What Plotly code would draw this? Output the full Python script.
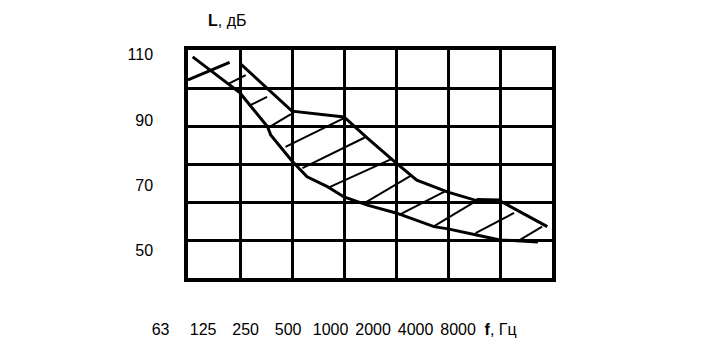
import plotly.graph_objects as go

# ---------------- data ----------------
freq_labels = ["63", "125", "250", "500", "1000", "2000", "4000", "8000"]
x_unit_label = "<b>f</b>, Гц"
y_unit_label = "<b>L</b>, дБ"
y_tick_vals = [110, 90, 70, 50]
y_tick_text = ["110", "90", "70", "50"]

# x is the octave-band index (0 = 63 Hz ... 7 = 8000 Hz), y is level in dB
lower_x = [0.09, 1.0, 1.53, 1.59, 2.0, 2.29, 2.69, 3.0, 3.45, 4.0, 4.73, 5.0, 5.55, 6.0, 6.73]
lower_y = [109.4, 98.3, 87.9, 85.4, 77.4, 72.5, 69.4, 66.3, 63.8, 61.4, 57.2, 56.5, 54.6, 53.1, 52.5]

upper_x = [1.0, 2.0, 3.0, 3.45, 4.0, 4.4, 5.0, 5.55, 6.0, 6.91]
upper_y = [107.4, 92.7, 90.9, 84.4, 76.8, 71.5, 67.8, 65.2, 65.1, 57.2]

upper63_x = [0.0, 0.80]
upper63_y = [102.3, 107.7]

plateau_x = [5.55, 6.0]
plateau_y = [65.2, 65.1]

hatch_x0 = [0.766, 1.17, 1.53, 1.875, 2.20, 2.69, 3.40, 4.06, 4.71, 5.53, 6.36]
hatch_y0 = [101.0, 94.3, 87.5, 81.7, 75.2, 69.1, 64.5, 60.8, 57.1, 55.2, 52.9]
hatch_x1 = [1.11, 1.52, 1.98, 2.99, 3.40, 3.92, 4.28, 4.96, 5.52, 6.27, 6.81]
hatch_y1 = [103.8, 97.1, 91.8, 90.5, 84.6, 78.0, 72.8, 68.2, 64.9, 61.4, 57.2]

# ---------------- layout constants ----------------
W, H = 702, 350
ML, MR, MT, MB = 100, 150, 50, 72
PLOT_LEFT_PX = 188
LABEL_FIRST_PX, LABEL_LAST_PX = 160.6, 500.6
Y_MIN, Y_MAX = 41.4, 111.5
N_ROWS = 6
FONT = "Liberation Sans, Arial, sans-serif"

paper_w = W - ML - MR
x_dom_start = (PLOT_LEFT_PX - ML) / paper_w
x2_dom = [(LABEL_FIRST_PX - ML) / paper_w, (LABEL_LAST_PX - ML) / paper_w]

hx, hy = [], []
for a, b, c, d in zip(hatch_x0, hatch_y0, hatch_x1, hatch_y1):
    hx += [a, c, None]
    hy += [b, d, None]

fig = go.Figure()
fig.add_trace(go.Scatter(x=hx, y=hy, mode="lines", line=dict(color="black", width=2),
                         hoverinfo="skip", showlegend=False))
fig.add_trace(go.Scatter(x=lower_x, y=lower_y, mode="lines", line=dict(color="black", width=3),
                         showlegend=False))
fig.add_trace(go.Scatter(x=upper_x, y=upper_y, mode="lines", line=dict(color="black", width=3),
                         showlegend=False))
fig.add_trace(go.Scatter(x=upper63_x, y=upper63_y, mode="lines", line=dict(color="black", width=3),
                         showlegend=False))
fig.add_trace(go.Scatter(x=plateau_x, y=plateau_y, mode="lines", line=dict(color="black", width=5),
                         showlegend=False))
# carrier for the frequency-label axis
fig.add_trace(go.Scatter(x=[], y=[], xaxis="x2", yaxis="y2", showlegend=False, hoverinfo="skip"))

fig.update_layout(
    width=W, height=H,
    margin=dict(l=ML, r=MR, t=MT, b=MB),
    paper_bgcolor="white", plot_bgcolor="rgba(0,0,0,0)",
    font=dict(family=FONT, size=16, color="black"),
    showlegend=False,
    xaxis=dict(domain=[x_dom_start, 1], range=[0, 7], tickmode="linear", tick0=0, dtick=1,
               showgrid=True, gridcolor="black", gridwidth=2.5, showticklabels=False,
               ticks="", zeroline=False, showline=True, linecolor="black", linewidth=3.5,
               mirror=True, fixedrange=True),
    xaxis2=dict(domain=x2_dom, anchor="y2", range=[0, 8], tickmode="array",
                tickvals=list(range(len(freq_labels) + 1)),
                ticktext=freq_labels + [x_unit_label],
                showgrid=False, zeroline=False, showline=False, ticks="",
                ticklabelstandoff=40, fixedrange=True),
    yaxis2=dict(domain=[0, 1], anchor="x2", range=[0, 1], showgrid=False, zeroline=False,
                showline=False, showticklabels=False, ticks="", fixedrange=True),
    yaxis=dict(range=[Y_MIN, Y_MAX], tickmode="array", tickvals=y_tick_vals, ticktext=y_tick_text,
               showgrid=False, zeroline=False, ticks="", showline=True, linecolor="black",
               linewidth=3.5, mirror=True, ticklabelstandoff=28,
               minor=dict(tickmode="linear", tick0=Y_MIN, dtick=(Y_MAX - Y_MIN) / N_ROWS,
                          showgrid=True, gridcolor="black", gridwidth=2.5, ticks=""),
               fixedrange=True),
    annotations=[dict(text=y_unit_label, xref="paper", yref="paper",
                      x=(227 - ML) / paper_w, y=(H - MB - 20) / (H - MT - MB),
                      showarrow=False, xanchor="center", yanchor="middle",
                      font=dict(family=FONT, size=16, color="black"))],
)

fig.write_html("out.html")
